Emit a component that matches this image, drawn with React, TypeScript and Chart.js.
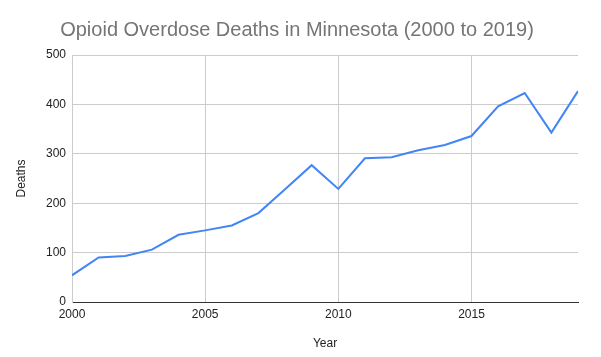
import React, { useEffect, useRef } from "react";
import { Chart, registerables } from "chart.js";

Chart.register(...registerables);

const years = [2000, 2001, 2002, 2003, 2004, 2005, 2006, 2007, 2008, 2009, 2010, 2011, 2012, 2013, 2014, 2015, 2016, 2017, 2018, 2019];
const deaths = [54, 90, 93, 106, 136, 145, 155, 180, 228, 277, 229, 291, 293, 307, 318, 336, 396, 423, 343, 427];

const titleText = "Opioid Overdose Deaths in Minnesota (2000 to 2019)";
const xTitle = "Year";
const yTitle = "Deaths";
const FONT = "Arial, 'Liberation Sans', sans-serif";

export default function App() {
  const ref = useRef<HTMLCanvasElement | null>(null);
  useEffect(() => {
    document.body.style.margin = "0";
    const ctx = ref.current!;
    const chart = new Chart(ctx, {
      type: "line",
      data: {
        datasets: [
          {
            data: years.map((y, i) => ({ x: y, y: deaths[i] })),
            borderColor: "#4285F4",
            backgroundColor: "#4285F4",
            borderWidth: 2,
            pointRadius: 0,
            tension: 0,
            fill: false,
          },
        ],
      },
      options: {
        animation: false,
        responsive: false,
        maintainAspectRatio: false,
        layout: { padding: { left: 0, right: 7, top: 0, bottom: 0 } },
        plugins: {
          legend: { display: false },
          tooltip: { enabled: false },
          title: {
            display: true,
            text: titleText,
            color: "#757575",
            font: { family: FONT, size: 20, weight: "normal" },
            padding: { top: 18, bottom: 13 },
          },
        },
        scales: {
          x: {
            type: "linear",
            min: 2000,
            max: 2019,
            afterFit: (s: any) => { s.height = 55; },
            ticks: {
              stepSize: 5,
              includeBounds: false,
              color: "#222",
              font: { family: FONT, size: 12 },
              padding: 5,
              maxRotation: 0,
              callback: (v: any) => String(v),
            },
            grid: { color: "#cccccc", drawTicks: false, lineWidth: 1 },
            border: { color: "#333333", width: 1 },
            title: {
              display: true,
              text: xTitle,
              color: "#222",
              font: { family: FONT, size: 12 },
              padding: { top: 0, bottom: 6 },
            },
          },
          y: {
            min: 0,
            max: 500,
            afterFit: (s: any) => { s.width = 72; },
            ticks: {
              stepSize: 100,
              color: "#222",
              font: { family: FONT, size: 12 },
              padding: 6,
            },
            grid: { color: "#cccccc", drawTicks: false, lineWidth: 1 },
            border: { color: "#cccccc", width: 1 },
            title: {
              display: true,
              text: yTitle,
              color: "#222",
              font: { family: FONT, size: 12 },
              padding: { top: 14, bottom: 0 },
            },
          },
          yRight: {
            position: "right",
            min: 0,
            max: 500,
            afterFit: (s: any) => { s.width = 16; },
            ticks: { display: false },
            grid: { display: false, drawTicks: false },
            border: { display: false },
          },
        },
      },
    });
    return () => chart.destroy();
  }, []);
  return (
    <div style={{ position: "absolute", left: 0, top: 0, width: 601, height: 357 }}>
      <canvas ref={ref} width={601} height={357} style={{ width: 601, height: 357 }} />
    </div>
  );
}
